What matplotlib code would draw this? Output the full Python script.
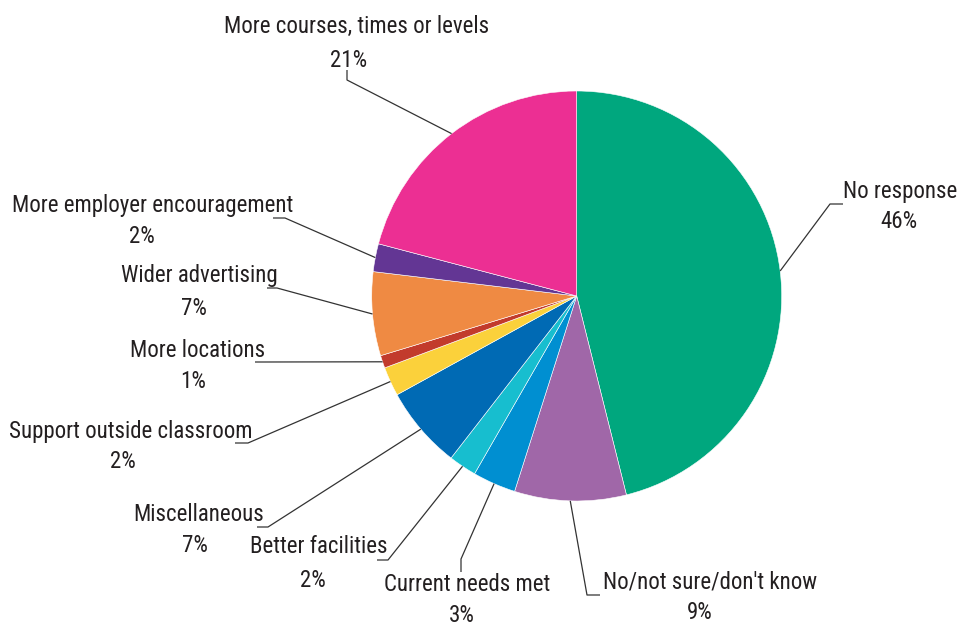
import numpy as np
import matplotlib
matplotlib.use('Agg')
import matplotlib.pyplot as plt

W, H = 960, 626

# slices, clockwise from 12 o'clock
labels = ['No response', 'No/not sure/don\'t know', 'Current needs met',
          'Better facilities', 'Miscellaneous', 'Support outside classroom',
          'More locations', 'Wider advertising', 'More employer encouragement',
          'More courses, times or levels']
values = [46.1, 8.8, 3.4, 2.2, 6.5, 2.3, 1.0, 6.6, 2.2, 20.9]
pct_text = ['46%', '9%', '3%', '2%', '7%', '2%', '1%', '7%', '2%', '21%']
colors = ['#00A77E', '#A067A8', '#008FD1', '#17BECF', '#006AB4', '#FBD13B',
          '#C23B2C', '#EF8A43', '#633694', '#EC2F93']

# label layout in image pixels: (name x, name baseline, pct x, pct baseline,
# leader start, leader elbow)
layout = [
    (900, 198, 899, 228, (843, 204), (830, 204)),
    (710, 588, 700, 619, (600, 595), (587, 595)),
    (467, 591, 462, 622, (461, 572), (461, 559)),
    (319, 553, 313, 587, (377, 560), (388, 560)),
    (199, 521, 195, 552, (257, 527), (268, 527)),
    (131, 438, 123, 468, (235, 443), (248, 443)),
    (198, 357, 193, 388, (255, 362), (265, 362)),
    (199, 282, 194, 315, (267, 288), (277, 288)),
    (153, 212, 142, 243, (273, 218), (285, 218)),
    (357, 33, 349, 67, (347, 70), (347, 80)),
]

cx, cy, r = 576.7, 296, 205
fonts = ['Roboto Condensed', 'Lato', 'DejaVu Sans']
txt_color = '#231F20'

fig = plt.figure(figsize=(W / 100, H / 100), dpi=100)
ax = fig.add_axes([0, 0, 1, 1])

wedges, _ = ax.pie(values, colors=colors, startangle=90, counterclock=False,
                   center=(cx, H - cy), radius=r,
                   wedgeprops=dict(edgecolor='white', linewidth=0.4))

for w, name, pct, lay in zip(wedges, labels, pct_text, layout):
    nx, ny, px, py, start, elbow = lay
    ax.text(nx, H - ny, name, ha='center', va='baseline', fontsize=16.5,
            family=fonts, color=txt_color)
    ax.text(px, H - py, pct, ha='center', va='baseline', fontsize=16.5,
            family=fonts, color=txt_color)
    mid = np.deg2rad((w.theta1 + w.theta2) / 2)
    ex = cx + r * np.cos(mid)
    ey = (H - cy) + r * np.sin(mid)
    ax.plot([start[0], elbow[0], ex], [H - start[1], H - elbow[1], ey],
            color='#333333', lw=0.9, solid_capstyle='butt')

ax.set_xlim(0, W)
ax.set_ylim(0, H)
ax.set_aspect('equal')
ax.axis('off')

fig.savefig('out.png', dpi=100)
